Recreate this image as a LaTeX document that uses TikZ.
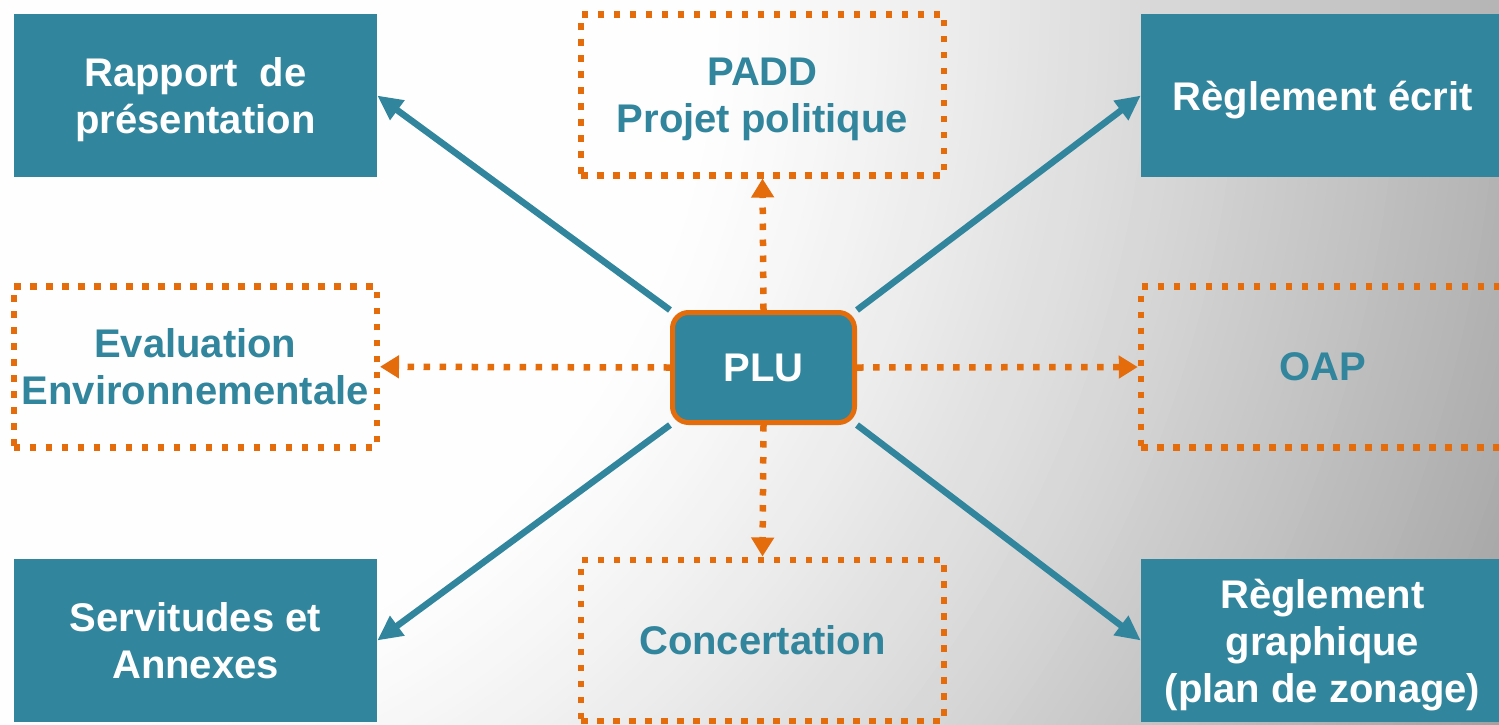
\documentclass[tikz,border=0pt]{standalone}
\usepackage{fontspec}
\setmainfont{Liberation Sans}
\usetikzlibrary{arrows.meta}
\definecolor{pluteal}{RGB}{49,133,156}
\definecolor{pluorange}{RGB}{228,108,10}
\pgfdeclarelayer{back}
\pgfdeclarelayer{mid}
\pgfsetlayers{back,mid,main}
\begin{document}
\begin{tikzpicture}[x=1pt,y=-1pt,
  txt/.style={font=\fontsize{40}{47}\selectfont\bfseries, align=center, inner sep=0pt, text depth=0pt},
  solidbox/.style={txt, fill=pluteal, text=white, minimum width=363pt, minimum height=163pt},
  dotbox/.style={txt, draw=pluorange, line width=6.5pt, dash pattern=on 6.5pt off 9.5pt,
    text=pluteal, minimum width=363pt, minimum height=161pt},
  hubbox/.style={txt, fill=pluteal, draw=pluorange, line width=5pt, rounded corners=16pt,
    text=white, minimum width=182pt, minimum height=110pt},
  link/.style={draw=pluteal, line width=6.5pt, -{Triangle[length=25pt,width=23pt]}},
  dotlink/.style={draw=pluorange, line width=6.5pt, dash pattern=on 6.5pt off 9.5pt,
    -{Triangle[length=19pt,width=22pt]}}
]
\useasboundingbox (0,0) rectangle (1499,724);

% background: white on the left, greying towards the lower right
\begin{pgfonlayer}{back}
  \begin{scope}
    \clip (0,0) rectangle (1499,724);
    \fill[white] (0,0) rectangle (1499,724);
    \foreach \r in {1700,1690,...,710} {
      \pgfmathsetmacro{\p}{31*((\r-700)/840)^1.2}
      \fill[black!\p!white] (0,0) circle[radius=\r pt];
    }
  \end{scope}
\end{pgfonlayer}

% documents of the PLU
\node[solidbox] (rap)  at (195.5,95.5)    {Rapport\ \ de\\présentation};
\node[dotbox]   (padd) at (762.5,94.75)   {PADD\\Projet politique};
\node[solidbox] (rege) at (1322.5,95.5)   {Règlement écrit};
\node[dotbox]   (eval) at (195.25,366.75) {Evaluation\\Environnementale};
\node[hubbox]   (plu)  at (763.5,367.5)   {PLU};
\node[dotbox]   (oap)  at (1322.5,367)    {OAP};
\node[solidbox] (serv) at (195.5,640.5)   {Servitudes et\\Annexes};
\node[dotbox]   (conc) at (762.5,640.25)  {Concertation};
\node[solidbox] (regg) at (1322.5,640.5)  {Règlement\\graphique\\(plan de zonage)};

% connectors, kept beneath the central box
\begin{pgfonlayer}{mid}
  \draw[link] (plu.north west) -- (rap.east);
  \draw[link] (plu.north east) -- (rege.west);
  \draw[link] (plu.south west) -- (serv.east);
  \draw[link] (plu.south east) -- (regg.west);
  \draw[dotlink] (plu.north) -- (padd.south);
  \draw[dotlink] (plu.west)  -- (eval.east);
  \draw[dotlink] (plu.east)  -- (oap.west);
  \draw[dotlink] (plu.south) -- (conc.north);
\end{pgfonlayer}
\end{tikzpicture}
\end{document}
